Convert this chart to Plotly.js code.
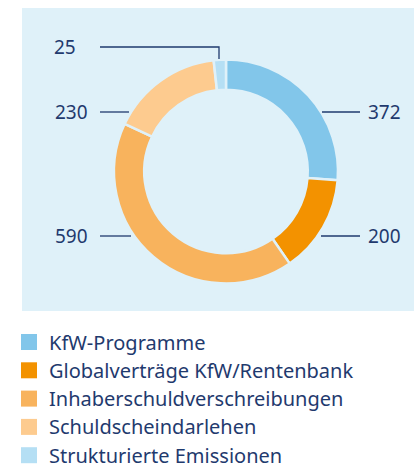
<!DOCTYPE html>
<html><head><meta charset="utf-8">
<script src="https://cdn.plot.ly/plotly-3.0.1.min.js"></script>
<style>html,body{margin:0;padding:0;background:#fff}#chart{width:414px;height:470px}</style>
</head><body><div id="chart"></div>
<script>
const categories = ["KfW-Programme","Globalverträge KfW/Rentenbank","Inhaberschuldverschreibungen","Schuldscheindarlehen","Strukturierte Emissionen"];
const values = [372, 200, 590, 230, 25];
const colors = ["#82c6ea","#f39200","#f8b35d","#fdcb8f","#b5dff4"];
const textColor = "#1f3a6e";

// label placement (pixels)
const W = 414, H = 470;
const labelPos = [
  {tx: 366, ty: 112, anchor: "left",  lx0: 322, lx1: 360},
  {tx: 366, ty: 236, anchor: "left",  lx0: 321, lx1: 360},
  {tx: 90,  ty: 236, anchor: "right", lx0: 100, lx1: 131},
  {tx: 90,  ty: 112, anchor: "right", lx0: 100, lx1: 129},
  {tx: 78,  ty: 47,  anchor: "right", lx0: 100, lx1: 219, down: 59}
];
const legendTop = 342, legendStep = 28.3;
const px = x => x / W, py = y => 1 - y / H;

const annotations = [], shapes = [];
shapes.push({type:"rect", xref:"paper", yref:"paper", x0:px(22), x1:px(414), y0:py(311), y1:py(8),
  fillcolor:"#dff1f9", line:{width:0}, layer:"below"});
values.forEach((v,i)=>{
  const p = labelPos[i];
  annotations.push({xref:"paper", yref:"paper", x:px(p.tx), y:py(p.ty), xanchor:p.anchor, yanchor:"middle",
    text:String(v), showarrow:false, font:{family:"Noto Sans, sans-serif", size:19, color:textColor}});
  if (p.down) {
    shapes.push({type:"path", xref:"paper", yref:"paper",
      path:`M${px(p.lx0)},${py(p.ty)} L${px(p.lx1)},${py(p.ty)} L${px(p.lx1)},${py(p.down)}`,
      line:{color:textColor, width:1.3}});
  } else {
    shapes.push({type:"line", xref:"paper", yref:"paper", x0:px(p.lx0), x1:px(p.lx1), y0:py(p.ty), y1:py(p.ty),
      line:{color:textColor, width:1.3}});
  }
});
// legend
categories.forEach((c,i)=>{
  const yc = legendTop + i*legendStep;
  shapes.push({type:"rect", xref:"paper", yref:"paper", x0:px(21), x1:px(37), y0:py(yc+8), y1:py(yc-8),
    fillcolor:colors[i], line:{width:0}});
  annotations.push({xref:"paper", yref:"paper", x:px(48), y:py(yc), xanchor:"left", yanchor:"middle",
    text:c, showarrow:false, borderpad:0, font:{family:"Noto Sans, sans-serif", size:20, color:textColor}});
});

const trace = {
  type:"pie", labels:categories, values:values, hole:0.73, sort:false, direction:"clockwise", rotation:0,
  marker:{colors:colors, line:{color:"#dff1f9", width:2.5}},
  textinfo:"none", hoverinfo:"label+value",
  domain:{x:[px(114), px(338)], y:[py(283.5), py(59.5)]}
};
const layout = {
  width:W, height:H, margin:{l:0,r:0,t:0,b:0}, paper_bgcolor:"#ffffff", plot_bgcolor:"rgba(0,0,0,0)",
  showlegend:false,
  shapes:shapes, annotations:annotations
};
Plotly.newPlot("chart", [trace], layout, {displayModeBar:false, staticPlot:true});
</script></body></html>
